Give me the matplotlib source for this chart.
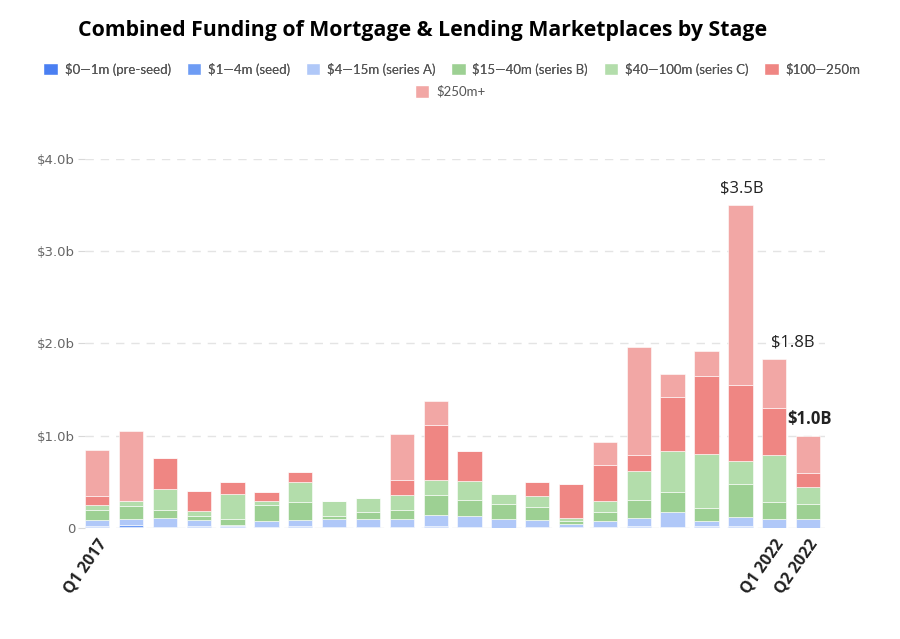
import numpy as np
import matplotlib.pyplot as plt
from matplotlib.patches import Patch

# quarters Q1 2017 .. Q2 2022
quarters = ["Q1 2017", "Q2 2017", "Q3 2017", "Q4 2017",
            "Q1 2018", "Q2 2018", "Q3 2018", "Q4 2018",
            "Q1 2019", "Q2 2019", "Q3 2019", "Q4 2019",
            "Q1 2020", "Q2 2020", "Q3 2020", "Q4 2020",
            "Q1 2021", "Q2 2021", "Q3 2021", "Q4 2021",
            "Q1 2022", "Q2 2022"]
shown_ticks = ["Q1 2017", "Q1 2022", "Q2 2022"]

stages = ["$0\u20141m (pre-seed)", "$1\u20144m (seed)", "$4\u201415m (series A)",
          "$15\u201440m (series B)", "$40\u2014100m (series C)", "$100\u2014250m", "$250m+"]
colors = ["#4a7ff2", "#6e9cf4", "#b0c8f8", "#9dd093", "#b3ddab", "#ef8683", "#f2a7a5"]

# values in $ billions
pre_seed = [0.008, 0.015, 0.004, 0.010, 0.015, 0.004, 0.008, 0.003, 0.003, 0.004, 0.010,
            0.004, 0.002, 0.004, 0.003, 0.006, 0.010, 0.006, 0.010, 0.010, 0.002, 0.002]
seed = [0.012, 0.015, 0.004, 0.008, 0.010, 0.003, 0.010, 0.003, 0.003, 0.003, 0.008,
        0.003, 0.002, 0.003, 0.003, 0.005, 0.008, 0.005, 0.008, 0.008, 0.002, 0.002]
series_a = [0.065, 0.070, 0.100, 0.070, 0.005, 0.072, 0.069, 0.095, 0.088, 0.094, 0.119,
            0.127, 0.097, 0.083, 0.040, 0.061, 0.090, 0.159, 0.061, 0.101, 0.097, 0.093]
series_b = [0.110, 0.140, 0.087, 0.040, 0.070, 0.166, 0.195, 0.034, 0.080, 0.094, 0.217,
            0.173, 0.163, 0.137, 0.030, 0.101, 0.192, 0.220, 0.141, 0.358, 0.181, 0.163]
series_c = [0.055, 0.050, 0.224, 0.060, 0.270, 0.050, 0.216, 0.162, 0.151, 0.162, 0.162,
            0.206, 0.108, 0.123, 0.036, 0.123, 0.314, 0.448, 0.585, 0.245, 0.512, 0.184]
m100_250 = [0.100, 0.000, 0.343, 0.216, 0.127, 0.100, 0.105, 0.000, 0.000, 0.162, 0.603,
            0.325, 0.000, 0.148, 0.368, 0.383, 0.173, 0.581, 0.838, 0.823, 0.502, 0.152]
m250_plus = [0.500, 0.765, 0.000, 0.000, 0.000, 0.000, 0.000, 0.000, 0.000, 0.498, 0.260,
             0.000, 0.000, 0.000, 0.000, 0.252, 1.170, 0.249, 0.278, 1.957, 0.534, 0.397]

series = [pre_seed, seed, series_a, series_b, series_c, m100_250, m250_plus]

# highlighted totals: (quarter, text, bold)
callouts = [("Q4 2021", "$3.5B", False), ("Q1 2022", "$1.8B", False), ("Q2 2022", "$1.0B", True)]

fig = plt.figure(figsize=(9, 6.39), dpi=100)
ax = fig.add_axes([0.0944, 0.1737, 0.8223, 0.5775])

x = np.arange(len(quarters))
bottom = np.zeros(len(quarters))
for vals, col, name in zip(series, colors, stages):
    ax.bar(x, vals, 0.72, bottom=bottom, color=col, edgecolor="white",
           linewidth=0.4, label=name, zorder=3)
    bottom += np.array(vals)

ax.set_xlim(-0.36, 21.5)
ax.set_ylim(0, 4.0)
ax.set_yticks([0, 1, 2, 3, 4])
ax.set_yticklabels(["0", "$1.0b", "$2.0b", "$3.0b", "$4.0b"])
ax.yaxis.grid(True, color="#e4e4e4", linestyle=(0, (6, 5)), linewidth=1, zorder=0)
ax.tick_params(axis="y", length=5, color="#d8d8d8", labelcolor="#666666",
               labelsize=9.5, pad=2)
for s in ax.spines.values():
    s.set_visible(False)

ax.set_xticks([quarters.index(q) for q in shown_ticks])
ax.set_xticklabels(shown_ticks, rotation=55, ha="right", va="top",
                   rotation_mode="anchor", fontweight="bold", fontsize=11.5,
                   color="#222222", family="Open Sans")
ax.tick_params(axis="x", length=0, pad=6)

for q, txt, bold in callouts:
    i = quarters.index(q)
    dx = 0.55 if q == "Q1 2022" else 0.05
    ax.annotate(txt, (i, bottom[i]), xytext=(dx * 33.9 / 1.39, 6),
                textcoords="offset points", ha="center", va="bottom",
                fontsize=12, color="#222222", family="Open Sans",
                fontweight="bold" if bold else "normal", annotation_clip=False)

fig.text(0.087, 0.952, "Combined Funding of Mortgage & Lending Marketplaces by Stage",
         fontsize=15.3, fontweight="bold", family="Open Sans", ha="left", va="center",
         color="#000000")

handles = [Patch(facecolor=c, edgecolor="white") for c in colors]
leg1 = fig.legend(handles[:6], stages[:6], loc="center", bbox_to_anchor=(0.502, 0.892),
                  ncol=6, frameon=False, handlelength=1.1,
                  handleheight=1.1, columnspacing=1.2, handletextpad=0.5,
                  labelcolor="#555555", prop={"family": "Lato", "size": 9.5})
fig.legend(handles[6:], stages[6:], loc="center", bbox_to_anchor=(0.5, 0.857),
           frameon=False, handlelength=1.1, handleheight=1.1, handletextpad=0.5,
           labelcolor="#555555", prop={"family": "Lato", "size": 9.5})
fig.add_artist(leg1)

fig.savefig("out.png", dpi=100, facecolor="white")
